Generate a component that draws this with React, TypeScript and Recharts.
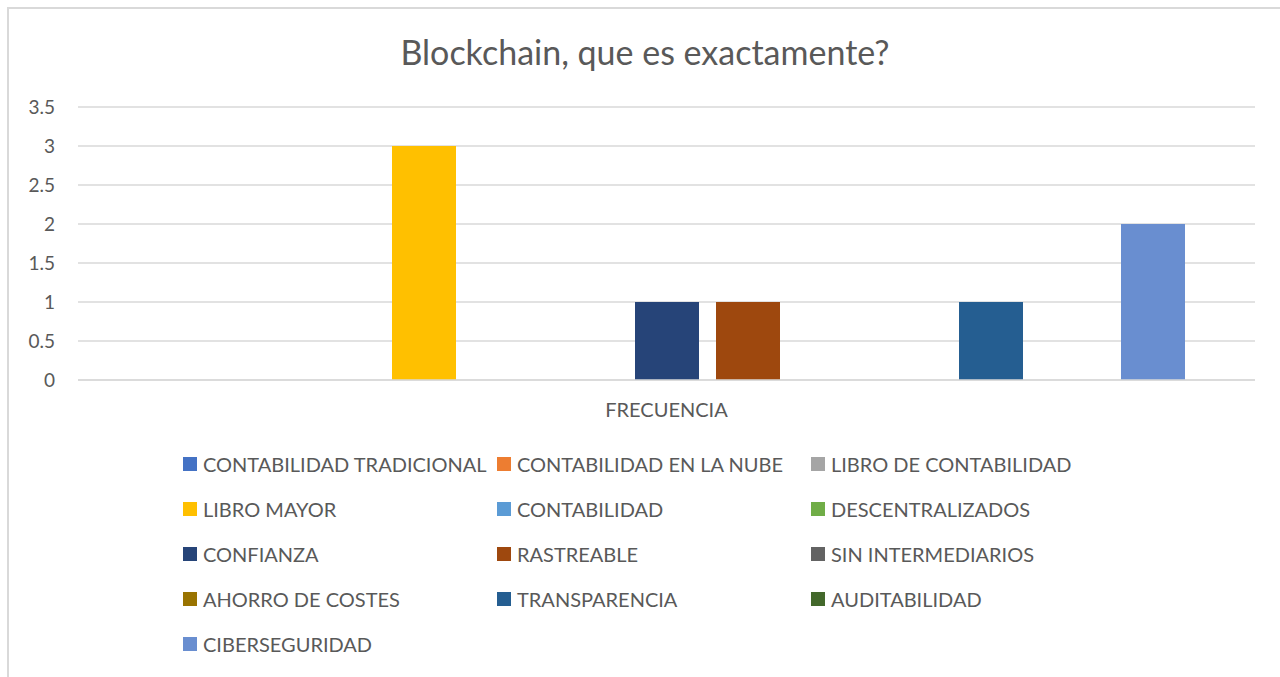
import React from "react";
import { BarChart, Bar, XAxis, YAxis, CartesianGrid } from "recharts";

const categories = ["FRECUENCIA"];
const seriesNames = [
  "CONTABILIDAD TRADICIONAL",
  "CONTABILIDAD EN LA NUBE",
  "LIBRO DE CONTABILIDAD",
  "LIBRO MAYOR",
  "CONTABILIDAD",
  "DESCENTRALIZADOS",
  "CONFIANZA",
  "RASTREABLE",
  "SIN INTERMEDIARIOS",
  "AHORRO DE COSTES",
  "TRANSPARENCIA",
  "AUDITABILIDAD",
  "CIBERSEGURIDAD",
];
const seriesValues = [0, 0, 0, 3, 0, 0, 1, 1, 0, 0, 1, 0, 2];
const seriesColors = [
  "#4472C4",
  "#ED7D31",
  "#A5A5A5",
  "#FFC000",
  "#5B9BD5",
  "#70AD47",
  "#264478",
  "#9E480E",
  "#636363",
  "#997300",
  "#255E91",
  "#43682B",
  "#698ED0",
];
const yTicks = [0, 0.5, 1, 1.5, 2, 2.5, 3, 3.5];
const title = "Blockchain, que es exactamente?";

const data = categories.map((c) => {
  const row: Record<string, string | number> = { name: c };
  seriesNames.forEach((s, i) => {
    row[s] = seriesValues[i];
  });
  return row;
});

const FONT = "Lato, 'Open Sans', sans-serif";
const TEXT = "#595959";

export default function App() {
  return (
    <div
      style={{
        position: "absolute",
        left: 0,
        top: 0,
        width: 1280,
        height: 677,
        overflow: "hidden",
        background: "#fff",
        fontFamily: FONT,
      }}
    >
      <div
        style={{
          position: "absolute",
          left: 7,
          top: 7,
          width: 1320,
          height: 720,
          border: "2px solid #d9d9d9",
          boxSizing: "border-box",
        }}
      />
      <div
        style={{
          position: "absolute",
          left: 0,
          top: 29,
          width: 1290,
          textAlign: "center",
          fontSize: 34,
          color: TEXT,
          lineHeight: "46px",
        }}
      >
        {title}
      </div>
      <div style={{ position: "absolute", left: 0, top: 0 }}>
        <BarChart
          width={1280}
          height={677}
          data={data}
          margin={{ top: 107, right: 25, left: 0, bottom: 257 }}
          barSize={64}
          barGap={17}
        >
          <CartesianGrid vertical={false} stroke="#d9d9d9" strokeWidth={1.5} />
          <XAxis
            dataKey="name"
            height={40}
            axisLine={{ stroke: "#d9d9d9", strokeWidth: 1.5 }}
            tickLine={false}
            tickMargin={17}
            tick={{ fill: TEXT, fontSize: 20, fontFamily: FONT }}
          />
          <YAxis
            width={78}
            domain={[0, 3.5]}
            ticks={yTicks}
            axisLine={false}
            tickLine={false}
            tickMargin={17}
            tick={{ fill: TEXT, fontSize: 19, fontFamily: FONT }}
          />
          {seriesNames.map((s, i) => (
            <Bar key={s} dataKey={s} fill={seriesColors[i]} isAnimationActive={false} />
          ))}
        </BarChart>
      </div>
      <div
        style={{
          position: "absolute",
          left: 183,
          top: 451,
          width: 960,
          display: "grid",
          gridTemplateColumns: "314px 314px 314px",
          gridAutoRows: "45px",
          fontSize: 20,
          color: TEXT,
        }}
      >
        {seriesNames.map((s, i) => (
          <div key={s} style={{ display: "flex", alignItems: "center", height: 26, whiteSpace: "nowrap" }}>
            <span
              style={{
                display: "inline-block",
                width: 14,
                height: 14,
                background: seriesColors[i],
                marginRight: 6,
              }}
            />
            {s}
          </div>
        ))}
      </div>
    </div>
  );
}
